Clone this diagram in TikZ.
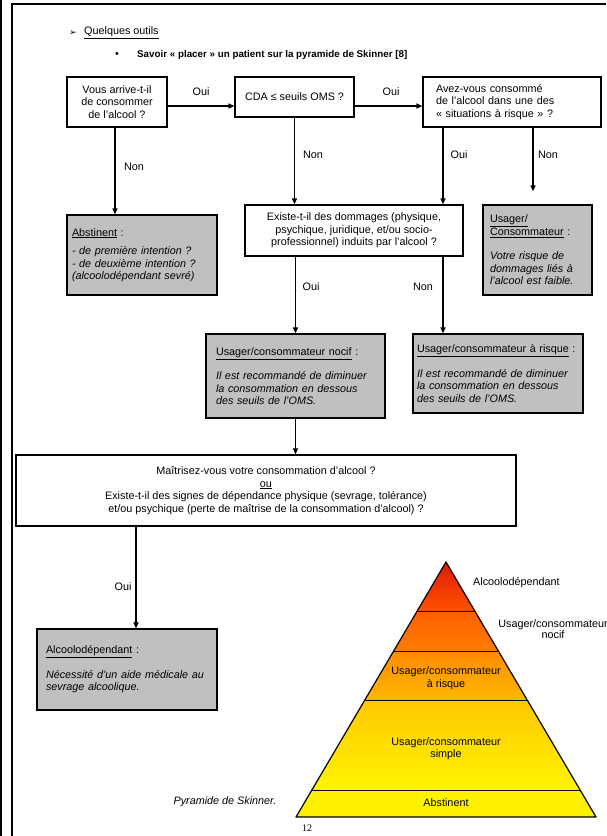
\documentclass[tikz,border=0pt]{standalone}
\usepackage{fontspec}
\setmainfont{Liberation Sans}
\newfontfamily\dingfont{DejaVu Sans}
\newfontfamily\pagefont{Liberation Serif}
\usetikzlibrary{arrows.meta,calc}

\definecolor{boxgray}{RGB}{192,192,192}
\definecolor{pyr0}{RGB}{222,30,0}
\definecolor{pyr1}{RGB}{255,80,0}
\definecolor{pyr2}{RGB}{255,95,0}
\definecolor{pyr3}{RGB}{255,125,0}
\definecolor{pyr4}{RGB}{255,138,0}
\definecolor{pyr5}{RGB}{255,185,0}
\definecolor{pyr6}{RGB}{255,200,0}
\definecolor{pyr7}{RGB}{255,245,0}

\begin{document}
\begin{tikzpicture}[
    x = 1pt, y = -1pt,
    every node/.style = {
      font = \fontsize{10.8}{12.5}\selectfont, inner sep = 0pt
    },
    question/.style = { draw, line width = 1.2pt, fill = white, align = center },
    outcome/.style = { draw, line width = 1.3pt, fill = boxgray, align = left },
    arrow/.style = { line width = 1.2pt, -{Triangle[length=6pt, width=5pt]} },
    band/.style = { draw = black, line width = 1pt }
  ]
  \useasboundingbox[fill = white] (0,0) rectangle (606,836);

  % page frame
  \draw[line width = 2pt] (1,0) -- (1,836);
  \draw[line width = 2pt] (11.5,836) -- (11.5,4) -- (606,4);

  % headings
  \node[anchor = west, font = \fontsize{9}{10}\dingfont] (tick) at (69,33) {➢};
  \node[anchor = west] (tools) at (84,33) {\underline{Quelques outils}};
  \node (dot) at (117,55) {•};
  \node[anchor = west, font = \fontsize{9.8}{12.5}\selectfont\bfseries] (title)
    at (137,55) {Savoir « placer » un patient sur la pyramide de Skinner [8]};

  % questions
  \node[question, minimum width = 100pt, minimum height = 50pt] (q1) at (117,102)
    {Vous arrive-t-il\\de consommer\\de l'alcool ?};
  \node[question, minimum width = 119pt, minimum height = 40pt] (q2) at (294.5,97)
    {CDA ≤ seuils OMS ?};
  \node[question, align = left, text width = 152pt, inner xsep = 13pt,
    minimum height = 50pt] (q3) at (512,102)
    {Avez-vous consommé\\de l'alcool dans une des\\« situations à risque » ?};
  \node[question, minimum width = 218pt, minimum height = 51pt] (exist) at (354,230.5)
    {Existe-t-il des dommages (physique,\\psychique, juridique, et/ou socio-\\professionnel) induits par l'alcool ?};
  \node[question, minimum width = 500pt, minimum height = 71pt] (big) at (266,490.5)
    {Maîtrisez-vous votre consommation d'alcool ?\\\underline{ou}\\Existe-t-il des signes de dépendance physique (sevrage, tolérance)\\et/ou psychique (perte de maîtrise de la consommation d'alcool) ?};

  % outcomes
  \node[outcome, text width = 140pt, inner xsep = 5pt, minimum height = 80pt] (abst)
    at (142,255)
    {\underline{Abstinent}~:\\[6pt]\itshape - de première intention ?\\- de deuxième intention ?\\(alcoolodépendant sevré)};
  \node[outcome, text width = 95pt, inner xsep = 7pt, minimum height = 90pt] (usc)
    at (537.5,250)
    {\underline{Usager/}\\\underline{Consommateur}~:\\[12pt]\itshape Votre risque de\\dommages liés à\\l'alcool est faible.};
  \node[outcome, text width = 159pt, inner xsep = 10pt, minimum height = 84pt] (nocif)
    at (295.5,376)
    {\underline{Usager/consommateur nocif}~:\\[12pt]\itshape Il est recommandé de diminuer\\la consommation en dessous\\des seuils de l'OMS.};
  \node[outcome, text width = 162pt, inner xsep = 4pt, minimum height = 79pt] (risque)
    at (498,373.5)
    {\underline{Usager/consommateur à risque}~:\\[12pt]\itshape Il est recommandé de diminuer\\la consommation en dessous\\des seuils de l'OMS.};
  \node[outcome, text width = 162pt, inner xsep = 9pt, minimum height = 81pt] (alc)
    at (127,669.5)
    {\underline{Alcoolodépendant}~:\\[12pt]\itshape Nécessité d'un aide médicale au\\sevrage alcoolique.};

  % connectors
  \coordinate (q3oui) at ([xshift = -69pt]q3.south);
  \coordinate (q3non) at ([xshift = 21pt]q3.south);
  \coordinate (bigoui) at ([xshift = 9pt]alc.north);
  \draw[arrow] ([yshift = -4pt]q1.east) -- ([yshift = -9pt]q2.west);
  \draw[arrow] ([yshift = -9pt]q2.east) -- ([yshift = -4pt]q3.west);
  \draw[arrow] ([xshift = -2pt]q1.south) -- ([xshift = -2pt]q1.south |- abst.north);
  \draw[arrow] (q2.south) -- (q2.south |- exist.north);
  \draw[arrow] (q3oui) -- (q3oui |- exist.north);
  \draw[arrow, shorten >= 13pt] (q3non) -- (q3non |- usc.north);
  \draw[arrow] (exist.south -| nocif.north) -- (nocif.north);
  \draw[arrow] (exist.south -| q3oui) -- (q3oui |- risque.north);
  \draw[arrow] (nocif.south) -- (nocif.south |- big.north);
  \draw[arrow] (bigoui |- big.south) -- (bigoui);

  % answers
  \node (oui1) at (201,92) {Oui};
  \node (oui2) at (391,92) {Oui};
  \node (non1) at (134,167) {Non};
  \node (non2) at (313,155) {Non};
  \node (oui3) at (459,155) {Oui};
  \node (non3) at (548,155) {Non};
  \node (oui4) at (311,287) {Oui};
  \node (non4) at (423,287) {Non};
  \node (oui5) at (123,587) {Oui};

  % pyramid
  \coordinate (apex) at (446,562);
  \coordinate (bl) at (296,817);
  \coordinate (br) at (596,817);
  \foreach \n/\t in {1/0.1922, 2/0.3490, 3/0.5412, 4/0.8941} {
    \coordinate (l\n) at ($(apex)!\t!(bl)$);
    \coordinate (r\n) at ($(apex)!\t!(br)$);
  }
  \shade[top color = pyr0, bottom color = pyr1] (apex) -- (r1) -- (l1) -- cycle;
  \shade[top color = pyr2, bottom color = pyr3] (l1) -- (r1) -- (r2) -- (l2) -- cycle;
  \shade[top color = pyr4, bottom color = pyr5] (l2) -- (r2) -- (r3) -- (l3) -- cycle;
  \shade[top color = pyr6, bottom color = pyr7] (l3) -- (r3) -- (r4) -- (l4) -- cycle;
  \fill[yellow] (l4) -- (r4) -- (br) -- (bl) -- cycle;
  \foreach \n in {1,...,4}
    \draw[band] (l\n) -- (r\n);
  \draw[line width = 1.2pt, line join = round] (apex) -- (br) -- (bl) -- cycle;

  \node[anchor = west] (p1) at (473,583) {Alcoolodépendant};
  \node[align = center, font = \fontsize{10.8}{11}\selectfont] (p2) at (553,629)
    {Usager/consommateur\\nocif};
  \node[align = center] (p3) at (446,678) {Usager/consommateur\\à risque};
  \node[align = center] (p4) at (446,748.5) {Usager/consommateur\\simple};
  \node (p5) at (446,803) {Abstinent};
  \node[font = \fontsize{10.8}{12.5}\selectfont\itshape] (caption) at (225,802)
    {Pyramide de Skinner.};
  \node[font = \fontsize{10}{12}\pagefont] (page) at (307,828) {12};
\end{tikzpicture}
\end{document}
